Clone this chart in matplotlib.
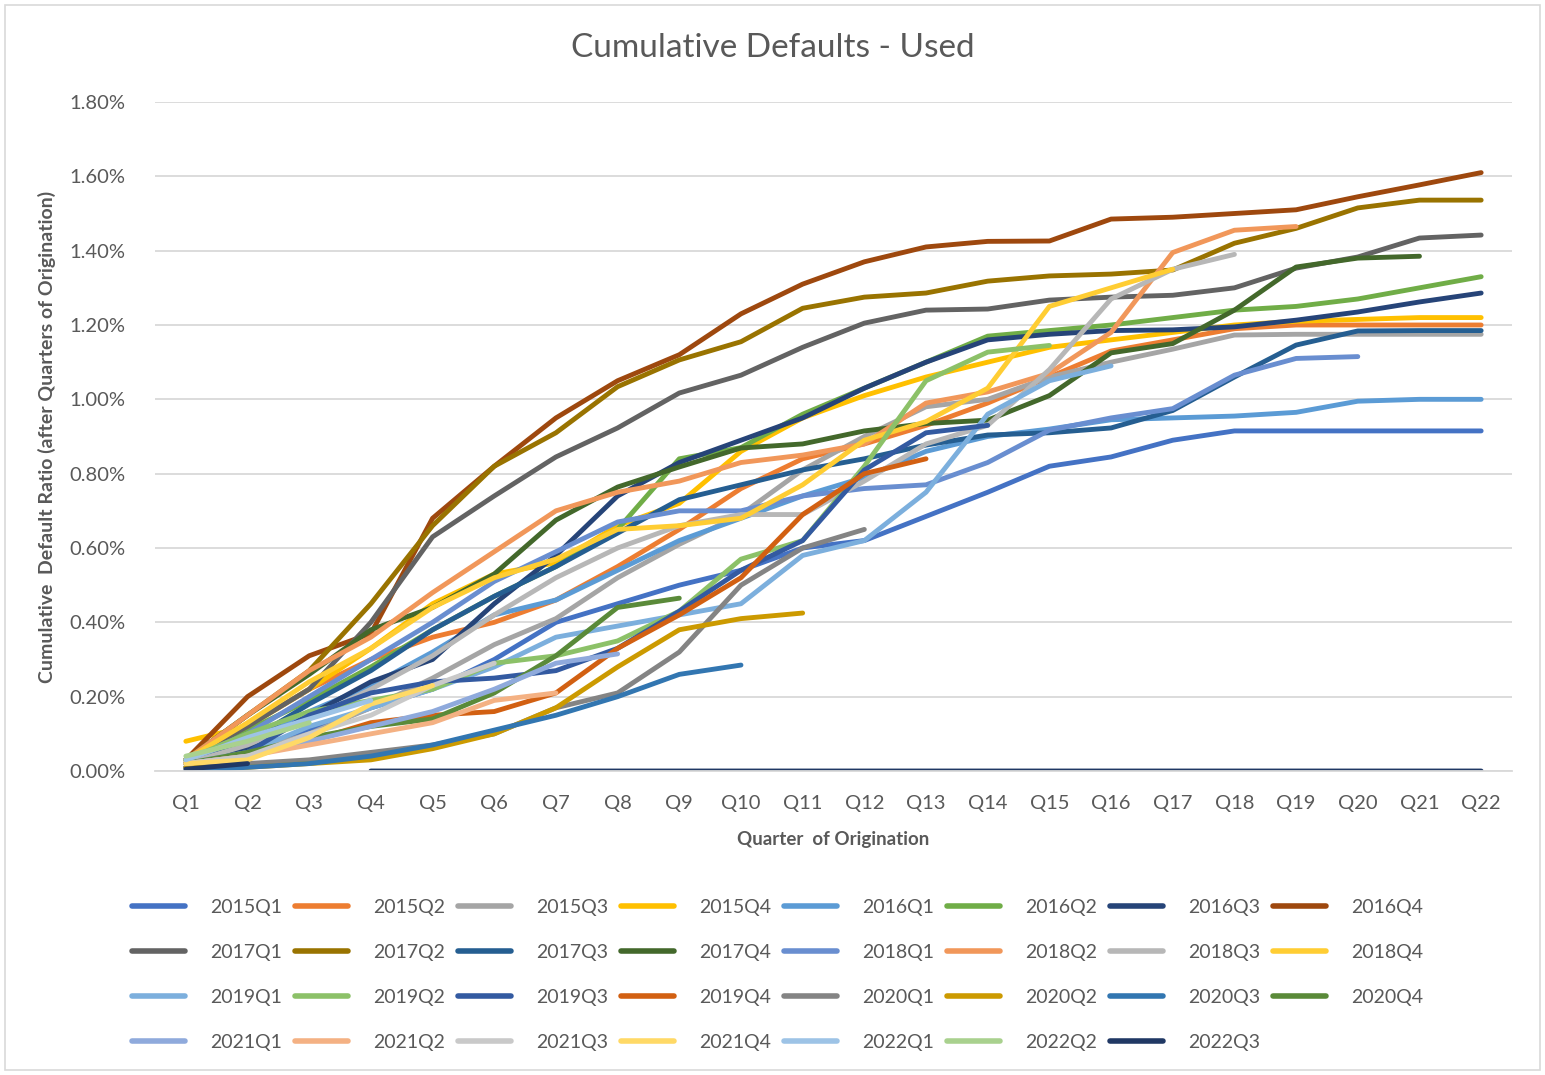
import numpy as np
import matplotlib
matplotlib.use("Agg")
import matplotlib.pyplot as plt
from matplotlib.ticker import PercentFormatter
from matplotlib.patches import Rectangle

plt.rcParams['font.family'] = ['Lato', 'DejaVu Sans']

# quarters since origination
quarters = ['Q1', 'Q2', 'Q3', 'Q4', 'Q5', 'Q6', 'Q7', 'Q8', 'Q9', 'Q10', 'Q11',
            'Q12', 'Q13', 'Q14', 'Q15', 'Q16', 'Q17', 'Q18', 'Q19', 'Q20', 'Q21', 'Q22']

vintages = ['2015Q1', '2015Q2', '2015Q3', '2015Q4', '2016Q1', '2016Q2', '2016Q3', '2016Q4',
            '2017Q1', '2017Q2', '2017Q3', '2017Q4', '2018Q1', '2018Q2', '2018Q3', '2018Q4',
            '2019Q1', '2019Q2', '2019Q3', '2019Q4', '2020Q1', '2020Q2', '2020Q3', '2020Q4',
            '2021Q1', '2021Q2', '2021Q3', '2021Q4', '2022Q1', '2022Q2', '2022Q3']

# cumulative default ratio in percent
v2015q1 = [0.01, 0.05, 0.11, 0.17, 0.22, 0.30, 0.40, 0.45, 0.50, 0.54, 0.60, 0.62, 0.685, 0.75, 0.82, 0.845, 0.89, 0.915, 0.915, 0.915, 0.915, 0.915]
v2015q2 = [0.03, 0.12, 0.22, 0.30, 0.36, 0.40, 0.46, 0.55, 0.65, 0.76, 0.84, 0.88, 0.93, 0.99, 1.06, 1.13, 1.16, 1.19, 1.20, 1.20, 1.20, 1.20]
v2015q3 = [0.02, 0.05, 0.10, 0.17, 0.25, 0.34, 0.41, 0.52, 0.61, 0.69, 0.81, 0.90, 0.98, 1.00, 1.06, 1.10, 1.135, 1.173, 1.175, 1.175, 1.175, 1.175]
v2015q4 = [0.08, 0.12, 0.22, 0.33, 0.45, 0.53, 0.56, 0.66, 0.72, 0.86, 0.95, 1.01, 1.06, 1.10, 1.14, 1.16, 1.18, 1.20, 1.21, 1.215, 1.22, 1.22]
v2016q1 = [0.02, 0.08, 0.16, 0.23, 0.32, 0.42, 0.46, 0.54, 0.62, 0.68, 0.74, 0.79, 0.86, 0.90, 0.92, 0.945, 0.95, 0.955, 0.965, 0.995, 1.00, 1.00]
v2016q2 = [0.03, 0.11, 0.19, 0.28, 0.38, 0.47, 0.55, 0.65, 0.84, 0.87, 0.96, 1.03, 1.10, 1.17, 1.185, 1.20, 1.22, 1.24, 1.25, 1.27, 1.30, 1.33]
v2016q3 = [0.02, 0.06, 0.15, 0.24, 0.30, 0.45, 0.58, 0.74, 0.83, 0.89, 0.95, 1.03, 1.10, 1.16, 1.175, 1.185, 1.187, 1.195, 1.213, 1.235, 1.262, 1.286]
v2016q4 = [0.03, 0.20, 0.31, 0.37, 0.68, 0.82, 0.95, 1.05, 1.12, 1.23, 1.31, 1.37, 1.41, 1.425, 1.426, 1.485, 1.49, 1.50, 1.51, 1.545, 1.577, 1.61]
v2017q1 = [0.03, 0.12, 0.22, 0.40, 0.63, 0.74, 0.845, 0.923, 1.017, 1.065, 1.14, 1.205, 1.24, 1.243, 1.267, 1.275, 1.28, 1.30, 1.353, 1.383, 1.434, 1.442]
v2017q2 = [0.03, 0.15, 0.27, 0.45, 0.66, 0.82, 0.91, 1.034, 1.106, 1.155, 1.245, 1.275, 1.286, 1.318, 1.332, 1.337, 1.348, 1.42, 1.46, 1.515, 1.536, 1.536]
v2017q3 = [0.02, 0.08, 0.18, 0.27, 0.38, 0.47, 0.55, 0.64, 0.73, 0.77, 0.81, 0.84, 0.877, 0.904, 0.91, 0.923, 0.97, 1.06, 1.146, 1.184, 1.185, 1.185]
v2017q4 = [0.03, 0.15, 0.26, 0.38, 0.44, 0.53, 0.675, 0.764, 0.818, 0.869, 0.88, 0.915, 0.935, 0.944, 1.01, 1.125, 1.15, 1.24, 1.356, 1.38, 1.385]
v2018q1 = [0.03, 0.10, 0.20, 0.30, 0.40, 0.51, 0.59, 0.67, 0.70, 0.70, 0.74, 0.76, 0.77, 0.83, 0.917, 0.95, 0.975, 1.065, 1.11, 1.115]
v2018q2 = [0.03, 0.15, 0.27, 0.36, 0.48, 0.59, 0.70, 0.75, 0.78, 0.83, 0.85, 0.88, 0.99, 1.02, 1.07, 1.18, 1.395, 1.455, 1.465]
v2018q3 = [0.02, 0.07, 0.14, 0.22, 0.31, 0.42, 0.52, 0.60, 0.66, 0.69, 0.69, 0.78, 0.88, 0.93, 1.08, 1.27, 1.35, 1.39]
v2018q4 = [0.03, 0.13, 0.24, 0.33, 0.44, 0.52, 0.57, 0.65, 0.66, 0.68, 0.77, 0.89, 0.94, 1.03, 1.25, 1.30, 1.35]
v2019q1 = [0.02, 0.05, 0.12, 0.17, 0.22, 0.28, 0.36, 0.39, 0.42, 0.45, 0.58, 0.62, 0.75, 0.96, 1.05, 1.09]
v2019q2 = [0.03, 0.10, 0.16, 0.19, 0.22, 0.29, 0.31, 0.35, 0.43, 0.57, 0.62, 0.82, 1.05, 1.127, 1.145]
v2019q3 = [0.01, 0.05, 0.15, 0.21, 0.24, 0.25, 0.27, 0.33, 0.43, 0.54, 0.62, 0.81, 0.91, 0.93]
v2019q4 = [0.02, 0.04, 0.08, 0.13, 0.15, 0.16, 0.21, 0.33, 0.42, 0.52, 0.69, 0.80, 0.84]
v2020q1 = [0.02, 0.02, 0.03, 0.05, 0.07, 0.10, 0.17, 0.21, 0.32, 0.50, 0.60, 0.65]
v2020q2 = [0.01, 0.01, 0.02, 0.03, 0.06, 0.10, 0.17, 0.28, 0.38, 0.41, 0.425]
v2020q3 = [0.00, 0.01, 0.02, 0.04, 0.07, 0.11, 0.15, 0.20, 0.26, 0.285]
v2020q4 = [0.02, 0.05, 0.09, 0.12, 0.14, 0.21, 0.31, 0.44, 0.465]
v2021q1 = [0.02, 0.04, 0.08, 0.12, 0.16, 0.22, 0.29, 0.315]
v2021q2 = [0.02, 0.04, 0.07, 0.10, 0.13, 0.19, 0.21]
v2021q3 = [0.02, 0.04, 0.10, 0.15, 0.23, 0.29]
v2021q4 = [0.02, 0.03, 0.09, 0.18, 0.23]
v2022q1 = [0.03, 0.09, 0.14, 0.19]
v2022q2 = [0.04, 0.08, 0.13]
v2022q3 = [0.005, 0.02, None, 0, 0, 0, 0, 0, 0, 0, 0, 0, 0, 0, 0, 0, 0, 0, 0, 0, 0, 0]

series = [v2015q1, v2015q2, v2015q3, v2015q4, v2016q1, v2016q2, v2016q3, v2016q4,
          v2017q1, v2017q2, v2017q3, v2017q4, v2018q1, v2018q2, v2018q3, v2018q4,
          v2019q1, v2019q2, v2019q3, v2019q4, v2020q1, v2020q2, v2020q3, v2020q4,
          v2021q1, v2021q2, v2021q3, v2021q4, v2022q1, v2022q2, v2022q3]

# Office palette: accents, then darker, lighter, darker, lighter shades
colors = ['#4472C4', '#ED7D31', '#A5A5A5', '#FFC000', '#5B9BD5', '#70AD47',
          '#264478', '#9E480E', '#636363', '#997300', '#255E91', '#43682B',
          '#698ED0', '#F1975A', '#B7B7B7', '#FFCD33', '#7CAFDD', '#8CC168',
          '#335AA1', '#D26012', '#848484', '#CC9A00', '#3276B1', '#5A8A39',
          '#8FAADC', '#F4B183', '#C9C9C9', '#FFD966', '#9DC3E6', '#A9D18E',
          '#203864']

text_color = '#595959'
grid_color = '#D9D9D9'

fig = plt.figure(figsize=(15.45, 10.75), dpi=100)
ax = fig.add_axes([155 / 1545, 1 - 771 / 1075, (1512 - 155) / 1545, (771 - 102) / 1075])

x = np.arange(1, len(quarters) + 1)
handles = []
for name, vals, col in zip(vintages, series, colors):
    y = np.array(vals, dtype=float)
    h, = ax.plot(x[:len(y)], y, color=col, lw=3.5, label=name,
                 solid_capstyle='round', solid_joinstyle='round')
    handles.append(h)

ax.set_xlim(0.5, len(quarters) + 0.5)
ax.set_ylim(0, 1.8)
ax.set_yticks(np.arange(0, 1.81, 0.2))
ax.yaxis.set_major_formatter(PercentFormatter(xmax=100, decimals=2))
ax.set_xticks(x)
ax.set_xticklabels(quarters)

ax.grid(axis='y', color=grid_color, lw=1.3)
ax.set_axisbelow(True)
for side in ['left', 'right', 'top']:
    ax.spines[side].set_visible(False)
ax.spines['bottom'].set_color(grid_color)
ax.spines['bottom'].set_linewidth(1.3)
ax.tick_params(axis='both', length=0, labelsize=14.5, labelcolor=text_color)
ax.tick_params(axis='x', pad=17)
ax.tick_params(axis='y', pad=21)

ax.set_xlabel('Quarter  of Origination', fontsize=13.5, fontweight='bold',
              color=text_color, labelpad=14)
ax.set_ylabel('Cumulative  Default Ratio (after Quarters of Origination)', fontsize=14,
              fontweight='bold', color=text_color, labelpad=10)
fig.text(773 / 1545, 1 - 48 / 1075, 'Cumulative Defaults - Used', fontsize=24,
         color=text_color, ha='center', va='center')

# legend is filled row by row in the original, matplotlib fills by column
ncol = 8
nrow = int(np.ceil(len(handles) / ncol))
order = []
for c in range(ncol):
    for r in range(nrow):
        i = r * ncol + c
        if i < len(handles):
            order.append(i)
leg = fig.legend([handles[i] for i in order], [vintages[i] for i in order],
                 loc='upper left', bbox_to_anchor=(114 / 1545, 1 - 881 / 1075),
                 ncol=ncol, frameon=False, fontsize=14, handlelength=2.75,
                 handletextpad=1.3, columnspacing=0.63, labelspacing=1.45)
for t in leg.get_texts():
    t.set_color(text_color)
for lh in leg.get_lines():
    lh.set_linewidth(4)

# chart area border
fig.patches.append(Rectangle((5 / 1545, 5 / 1075), 1535 / 1545, 1065 / 1075,
                             transform=fig.transFigure, fill=False,
                             edgecolor='#D9D9D9', lw=1.2))

fig.savefig('out.png', dpi=100)
